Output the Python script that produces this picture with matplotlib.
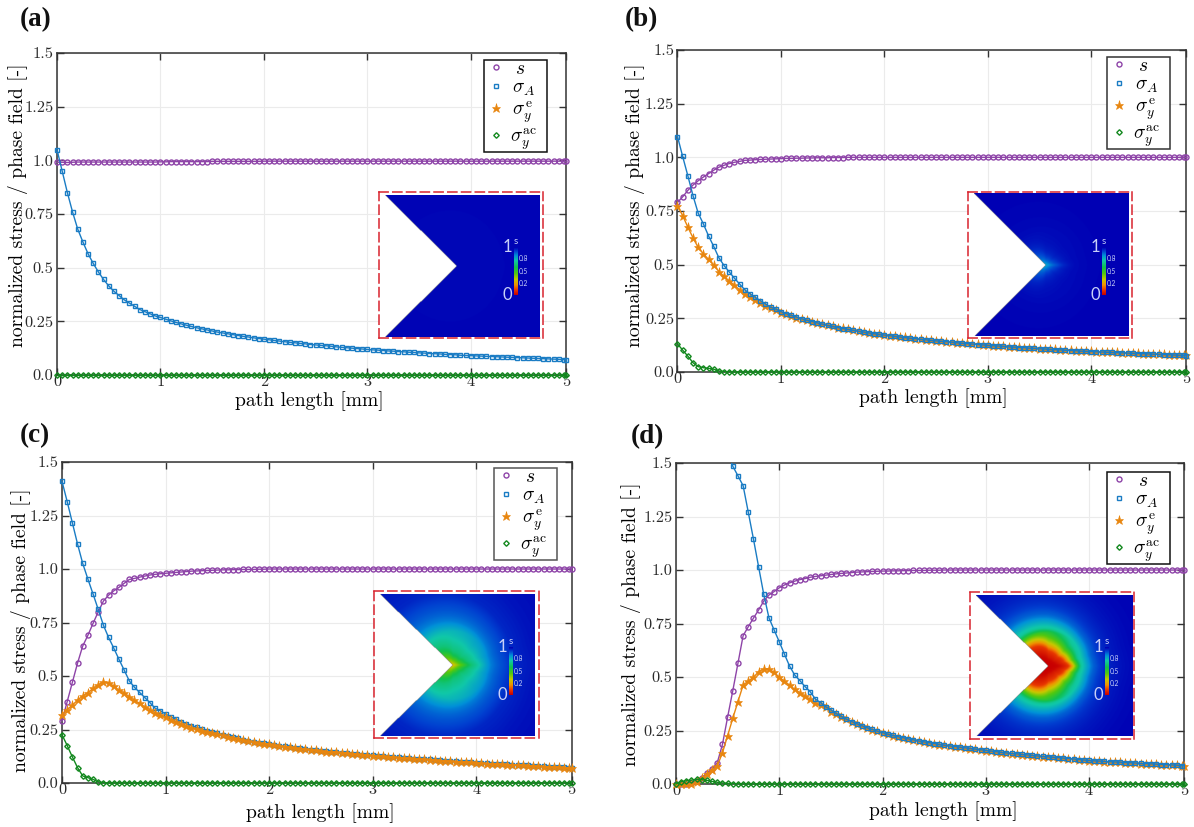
import numpy as np
import matplotlib
matplotlib.use("Agg")
import matplotlib.pyplot as plt
from matplotlib.colors import LinearSegmentedColormap
from matplotlib.lines import Line2D
from matplotlib.offsetbox import DrawingArea

plt.rcParams.update({
    "font.family": ["cmr10", "DejaVu Serif"],
    "mathtext.fontset": "cm",
    "axes.unicode_minus": False,
    "axes.formatter.use_mathtext": True,
})

W, H = 1194, 827

path_mm = [0.00,0.05,0.10,0.15,0.20,0.25,0.30,0.35,0.40,0.45,0.50,0.55,0.60,0.65,0.70,0.75,0.80,0.85,0.90,0.95,
           1.00,1.05,1.10,1.15,1.20,1.25,1.30,1.35,1.40,1.45,1.50,1.55,1.60,1.65,1.70,1.75,1.80,1.85,1.90,1.95,
           2.00,2.05,2.10,2.15,2.20,2.25,2.30,2.35,2.40,2.45,2.50,2.55,2.60,2.65,2.70,2.75,2.80,2.85,2.90,2.95,
           3.00,3.05,3.10,3.15,3.20,3.25,3.30,3.35,3.40,3.45,3.50,3.55,3.60,3.65,3.70,3.75,3.80,3.85,3.90,3.95,
           4.00,4.05,4.10,4.15,4.20,4.25,4.30,4.35,4.40,4.45,4.50,4.55,4.60,4.65,4.70,4.75,4.80,4.85,4.90,4.92]

x_ticks = [0, 1, 2, 3, 4, 4.92]
x_tick_labels = ["0", "1", "2", "3", "4", "5"]
y_ticks = [0, 0.25, 0.5, 0.75, 1.0, 1.25, 1.5]
y_tick_labels = ["0.0", "0.25", "0.5", "0.75", "1.0", "1.25", "1.5"]

# ---------- panel (a): the sigma_y^e curve is not visible in the reference
s_a = [.991,.991,.990,.991,.992,.992,.992,.992,.992,.992,.992,.992,.992,.992,.992,.992,.992,.992,.992,.992,
       .993,.993,.994,.994,.994,.994,.994,.994,.994,.994,.995,.995,.995,.995,.995,.995,.995,.995,.995,.995,
       .996,.996,.996,.996,.996,.996,.996,.996,.996,.996,.996,.996,.996,.996,.996,.996,.996,.996,.996,.996,
       .996,.996,.996,.996,.996,.996,.996,.996,.996,.996,.996,.996,.996,.996,.996,.996,.996,.996,.996,.996,
       .996,.996,.996,.996,.996,.996,.996,.996,.996,.996,.996,.996,.996,.996,.996,.996,.996,.996,.996,.996]
A_a = [1.05,.95,.85,.76,.68,.62,.565,.52,.48,.445,.415,.39,.37,.35,.335,.32,.305,.295,.285,.275,
       .268,.26,.252,.245,.238,.232,.226,.22,.215,.21,.205,.2,.196,.192,.188,.184,.18,.177,.173,.17,
       .167,.164,.161,.158,.155,.152,.15,.147,.145,.142,.14,.138,.136,.134,.131,.129,.127,.125,.123,.121,
       .119,.117,.116,.114,.112,.111,.109,.108,.106,.105,.103,.102,.1,.099,.098,.096,.095,.094,.092,.091,
       .09,.089,.088,.087,.086,.085,.084,.083,.082,.081,.08,.079,.078,.077,.076,.075,.074,.073,.072,.071]
ac_a = [0,0,0,0,0,0,0,0,0,0,0,0,0,0,0,0,0,0,0,0,
        0,0,0,0,0,0,0,0,0,0,0,0,0,0,0,0,0,0,0,0,
        0,0,0,0,0,0,0,0,0,0,0,0,0,0,0,0,0,0,0,0,
        0,0,0,0,0,0,0,0,0,0,0,0,0,0,0,0,0,0,0,0,
        0,0,0,0,0,0,0,0,0,0,0,0,0,0,0,0,0,0,0,0]

# ---------- panel (b)
s_b = [.79,.816,.846,.871,.891,.908,.924,.94,.954,.963,.971,.977,.981,.986,.987,.989,.99,.991,.992,.993,
       .994,.995,.995,.996,.996,.997,.997,.998,.998,.998,.999,.999,.999,1,1,1,1,1,1,1,
       1,1,1,1,1,1,1,1,1,1,1,1,1,1,1,1,1,1,1,1,
       1,1,1,1,1,1,1,1,1,1,1,1,1,1,1,1,1,1,1,1,
       1,1,1,1,1,1,1,1,1,1,1,1,1,1,1,1,1,1,1,1]
A_b = [1.097,1.004,.914,.821,.74,.69,.634,.585,.532,.496,.466,.437,.41,.383,.364,.348,.333,.317,.302,.293,
       .281,.272,.264,.256,.248,.241,.235,.229,.223,.217,.212,.207,.202,.198,.194,.19,.186,.182,.178,.175,
       .172,.169,.166,.163,.16,.157,.155,.152,.15,.147,.145,.143,.141,.139,.136,.134,.132,.13,.128,.126,
       .124,.122,.121,.119,.117,.116,.114,.113,.111,.11,.108,.107,.105,.104,.103,.101,.1,.099,.097,.096,
       .095,.094,.093,.092,.091,.09,.089,.088,.087,.086,.085,.084,.083,.082,.081,.08,.079,.078,.077,.076]
e_b = [.775,.728,.675,.625,.58,.55,.525,.497,.468,.445,.424,.404,.383,.362,.348,.336,.323,.309,.298,.287,
       .276,.268,.26,.253,.246,.24,.234,.228,.222,.217,.212,.207,.203,.198,.194,.19,.186,.182,.179,.176,
       .173,.17,.167,.164,.161,.158,.156,.153,.151,.148,.146,.144,.142,.14,.137,.135,.133,.131,.129,.127,
       .125,.123,.122,.12,.118,.117,.115,.114,.112,.111,.109,.108,.106,.105,.104,.102,.101,.1,.098,.097,
       .096,.095,.094,.093,.092,.091,.09,.089,.088,.087,.086,.085,.084,.083,.082,.081,.08,.079,.078,.077]
ac_b = [.131,.102,.074,.043,.025,.02,.017,.013,.005,.002,.001,0,0,0,0,0,0,0,0,0,
        0,0,0,0,0,0,0,0,0,0,0,0,0,0,0,0,0,0,0,0,
        0,0,0,0,0,0,0,0,0,0,0,0,0,0,0,0,0,0,0,0,
        0,0,0,0,0,0,0,0,0,0,0,0,0,0,0,0,0,0,0,0,
        0,0,0,0,0,0,0,0,0,0,0,0,0,0,0,0,0,0,0,0]

# ---------- panel (c)
s_c = [.29,.38,.47,.56,.64,.69,.746,.80,.85,.878,.898,.914,.933,.951,.956,.962,.967,.972,.975,.978,
       .98,.982,.984,.986,.988,.99,.991,.992,.993,.994,.995,.996,.996,.997,.997,.998,.998,.998,.999,.999,
       1,1,1,1,1,1,1,1,1,1,1,1,1,1,1,1,1,1,1,1,
       1,1,1,1,1,1,1,1,1,1,1,1,1,1,1,1,1,1,1,1,
       1,1,1,1,1,1,1,1,1,1,1,1,1,1,1,1,1,1,1,1]
A_c = [1.41,1.315,1.216,1.117,1.026,.953,.883,.811,.737,.68,.63,.578,.528,.477,.447,.423,.399,.375,.349,.338,
       .322,.31,.298,.287,.277,.268,.26,.252,.245,.238,.232,.226,.22,.214,.208,.203,.198,.193,.189,.185,
       .181,.177,.174,.171,.168,.165,.162,.159,.156,.153,.15,.148,.146,.144,.141,.139,.137,.135,.133,.131,
       .129,.127,.125,.123,.121,.12,.118,.116,.114,.113,.111,.11,.108,.106,.105,.103,.101,.1,.098,.097,
       .095,.094,.092,.091,.09,.088,.087,.086,.085,.084,.082,.081,.08,.078,.077,.076,.074,.073,.072,.07]
e_c = [.32,.343,.364,.387,.406,.422,.442,.458,.473,.469,.453,.434,.422,.403,.387,.372,.356,.343,.328,.317,
       .307,.296,.285,.275,.265,.258,.251,.245,.239,.233,.228,.222,.216,.21,.205,.2,.195,.191,.187,.183,
       .18,.176,.173,.17,.167,.164,.161,.158,.155,.152,.149,.147,.145,.143,.14,.138,.136,.134,.132,.13,
       .128,.126,.124,.122,.12,.119,.117,.115,.113,.112,.11,.109,.107,.105,.104,.102,.1,.099,.097,.096,
       .094,.093,.091,.09,.089,.087,.086,.085,.084,.083,.081,.08,.079,.077,.076,.075,.073,.072,.071,.069]
ac_c = [.226,.175,.122,.072,.033,.025,.017,.006,.001,0,0,0,0,0,0,0,0,0,0,0,
        0,0,0,0,0,0,0,0,0,0,0,0,0,0,0,0,0,0,0,0,
        0,0,0,0,0,0,0,0,0,0,0,0,0,0,0,0,0,0,0,0,
        0,0,0,0,0,0,0,0,0,0,0,0,0,0,0,0,0,0,0,0,
        0,0,0,0,0,0,0,0,0,0,0,0,0,0,0,0,0,0,0,0]

# ---------- panel (d)
s_d = [0,0,.002,.006,.012,.03,.05,.07,.1,.185,.313,.436,.564,.693,.735,.775,.813,.855,.883,.899,
       .917,.93,.94,.948,.955,.96,.966,.97,.973,.976,.979,.982,.984,.986,.988,.99,.991,.992,.993,.994,
       .995,.995,.996,.996,.997,.997,.998,.998,.998,.999,.999,.999,1,1,1,1,1,1,1,1,
       1,1,1,1,1,1,1,1,1,1,1,1,1,1,1,1,1,1,1,1,
       1,1,1,1,1,1,1,1,1,1,1,1,1,1,1,1,1,1,1,1]
A_d = [2.3,2.2,2.1,2.02,1.95,1.88,1.82,1.76,1.69,1.61,1.55,1.485,1.44,1.394,1.27,1.145,1.015,.886,.777,.72,
       .665,.607,.551,.509,.483,.455,.431,.397,.38,.361,.346,.33,.316,.303,.292,.282,.272,.263,.255,.247,
       .24,.233,.227,.221,.216,.211,.206,.201,.197,.193,.189,.185,.181,.178,.175,.172,.169,.166,.163,.16,
       .157,.154,.151,.148,.145,.143,.141,.138,.136,.134,.131,.129,.127,.125,.123,.121,.119,.117,.114,.112,
       .11,.108,.107,.106,.104,.103,.102,.1,.099,.098,.096,.095,.094,.093,.091,.09,.089,.088,.086,.085]
e_d = [0,0,.001,.002,.008,.026,.045,.065,.085,.146,.226,.307,.385,.462,.481,.498,.525,.537,.537,.522,
       .498,.481,.462,.442,.427,.411,.396,.377,.369,.358,.338,.327,.315,.302,.291,.281,.271,.262,.254,.246,
       .239,.232,.226,.22,.215,.21,.205,.2,.196,.192,.188,.184,.18,.177,.174,.171,.168,.165,.162,.159,
       .156,.153,.15,.147,.144,.142,.14,.137,.135,.133,.13,.128,.126,.124,.122,.12,.118,.116,.113,.111,
       .109,.107,.106,.105,.103,.102,.101,.099,.098,.097,.095,.094,.093,.092,.09,.089,.088,.087,.085,.084]
ac_d = [0,.011,.015,.018,.022,.02,.017,.012,.008,.005,.003,.002,.001,0,0,0,0,0,0,0,
        0,0,0,0,0,0,0,0,0,0,0,0,0,0,0,0,0,0,0,0,
        0,0,0,0,0,0,0,0,0,0,0,0,0,0,0,0,0,0,0,0,
        0,0,0,0,0,0,0,0,0,0,0,0,0,0,0,0,0,0,0,0,
        0,0,0,0,0,0,0,0,0,0,0,0,0,0,0,0,0,0,0,0]

# ---------- inset contour shape: reach of the damage zone per polar angle,
# chevron-like near the notch tip and rounder further away
inset_angle_deg = [0, 15, 45, 90, 120, 135, 180]
inset_reach_inner = [1.0, 0.72, 0.55, 0.6, 1.0, 1.2, 1.2]
inset_reach_outer = [1.0, 0.97, 1.02, 1.15, 1.22, 1.25, 1.25]
inset_colorbar_ticks = ["0.8", "0.5", "0.2"]

C_S, C_A, C_E, C_AC = "#8e44a8", "#1a7cc4", "#e8860f", "#12881e"

s_colors = [(0.0, "#c80000"), (0.10, "#e83800"), (0.2, "#f09000"), (0.32, "#c8c800"),
            (0.45, "#50c810"), (0.58, "#10c050"), (0.72, "#10c8a8"), (0.83, "#0090d8"),
            (0.92, "#0040d0"), (1.0, "#0000b4")]
s_cmap = LinearSegmentedColormap.from_list("s_field", s_colors)

panels = [
    dict(tag="(a)", tag_xy=(20, 19.5), box=(57, 566, 53, 375), s=s_a, A=A_a, e=[], ac=ac_a,
         order=("s", "e", "A", "ac"), legend=(484, 60), legend_edge="#111111",
         ylab=(18.5, 205), xlab=(309, 401),
         inset_box=(379, 543, 192, 338), image=(385, 540, 195, 337), tip=(457, 266),
         bar=(514, 518, 247, 295), scale=0.02),
    dict(tag="(b)", tag_xy=(625, 19.5), box=(677.5, 1186.5, 50, 372), s=s_b, A=A_b, e=e_b, ac=ac_b,
         order=("s", "e", "A", "ac"), legend=(1107, 57), legend_edge="#333333",
         ylab=(635, 205), xlab=(933, 398),
         inset_box=(968, 1132, 192, 338), image=(974, 1129, 193, 336), tip=(1046, 265),
         bar=(1102, 1106, 247, 295), scale=0.022),
    dict(tag="(c)", tag_xy=(20, 435.5), box=(62, 571.5, 462, 783), s=s_c, A=A_c, e=e_c, ac=ac_c,
         order=("s", "A", "e", "ac"), legend=(494, 468), legend_edge="#555555",
         ylab=(21, 630), xlab=(320, 813),
         inset_box=(374, 539, 591, 738), image=(380, 535, 594, 736), tip=(453, 665),
         bar=(509, 513, 647, 695), scale=0.0105),
    dict(tag="(d)", tag_xy=(631, 436.5), box=(676, 1184, 463, 784), s=s_d, A=A_d, e=e_d, ac=ac_d,
         order=("s", "e", "A", "ac"), legend=(1107, 472), legend_edge="#111111",
         ylab=(631, 624), xlab=(943, 811),
         inset_box=(970, 1134, 592, 739), image=(976, 1132, 595, 736), tip=(1048, 666),
         bar=(1105, 1109, 647, 695), scale=0.02),
]

STYLE = {
    "s": dict(color=C_S, marker="o", ms=3.6, mfc="none", mew=1.0, label=r"$\,\,s$"),
    "A": dict(color=C_A, marker="s", ms=3.2, mfc="none", mew=1.0, label=r"$\,\sigma_A$"),
    "e": dict(color=C_E, marker="*", ms=6.5, mfc=C_E, mew=0.4, label=r"$\,\sigma_y^{\mathrm{e}}$"),
    "ac": dict(color=C_AC, marker="D", ms=2.8, mfc="none", mew=1.0, label=r"$\sigma_y^{\mathrm{ac}}$"),
}


def px_axes(fig, l, r, t, b, **kw):
    return fig.add_axes([l / W, 1 - b / H, (r - l) / W, (b - t) / H], **kw)


fig = plt.figure(figsize=(W / 100, H / 100), dpi=100, facecolor="white")
x = np.array(path_mm)

for p in panels:
    l, r, t, b = p["box"]
    ax = px_axes(fig, l, r, t, b)
    for key in p["order"]:
        if len(p[key]) == 0:
            continue
        st = dict(STYLE[key])
        st.pop("label")
        clip = p["tag"] == "(d)" and key == "A"
        ax.plot(x, p[key], lw=1.0, clip_on=clip, zorder=3, **st)
    ax.set_xlim(0, 4.92)
    ax.set_ylim(0, 1.5)
    ax.set_xticks(x_ticks, x_tick_labels)
    ax.set_yticks(y_ticks, y_tick_labels)
    ax.tick_params(direction="in", top=True, right=True, length=5, width=1.0,
                   labelsize=11.8, color="#333333", labelcolor="#2a2a2a")
    ax.tick_params(axis="y", pad=2.5)
    ax.tick_params(axis="x", pad=0)
    ax.grid(True, color="#ebebeb", lw=0.8)
    ax.set_axisbelow(True)
    for sp in ax.spines.values():
        sp.set_color("#333333")
        sp.set_linewidth(1.1)
    ax.set_xlabel("path length [mm]", fontsize=14.1, va="center")
    ax.set_ylabel("normalized stress / phase field [-]", fontsize=14.1, va="center")
    ax.xaxis.set_label_coords((p["xlab"][0] - l) / (r - l), (b - p["xlab"][1]) / (b - t))
    ax.yaxis.set_label_coords((p["ylab"][0] - l) / (r - l), (b - p["ylab"][1]) / (b - t))

    handles = []
    for key in ("s", "A", "e", "ac"):
        st = dict(STYLE[key])
        label = st.pop("label")
        handles.append(Line2D([], [], ls="none", label=label, **st))
    leg = ax.legend(handles=handles, loc="upper left",
                    bbox_to_anchor=(p["legend"][0] / W, 1 - p["legend"][1] / H),
                    bbox_transform=fig.transFigure, borderaxespad=0, numpoints=1,
                    fontsize=14, frameon=True, fancybox=False, framealpha=1,
                    edgecolor=p["legend_edge"], handletextpad=0.13, handlelength=1.2,
                    labelspacing=0.05, borderpad=0.0)
    leg.get_frame().set_linewidth(1.1)
    leg.set_zorder(6)
    # widen the legend frame on the right, as in the reference
    last_row = leg._legend_handle_box.get_children()[0].get_children()[-1]
    last_row.get_children().append(DrawingArea(5.4, 1))

    fig.text(p["tag_xy"][0] / W, 1 - p["tag_xy"][1] / H, p["tag"], family="Liberation Serif",
             fontweight="bold", fontsize=19.5, ha="left", va="center", color="#111111")

    # inset contour picture
    bl, br, bt, bb = p["inset_box"]
    ins = px_axes(fig, bl, br, bt, bb, facecolor="white", zorder=5)
    il, ir, it, ib = p["image"]
    tx, ty = p["tip"]
    gx, gy = np.meshgrid(np.arange(il, ir, 0.5) + 0.25, np.arange(it, ib, 0.5) + 0.25)
    dx, dy = gx - tx, gy - ty
    radius = np.hypot(dx, dy)
    theta = np.degrees(np.arctan2(np.abs(dy), dx))
    reach_in = np.interp(theta, inset_angle_deg, inset_reach_inner)
    reach_out = np.interp(theta, inset_angle_deg, inset_reach_outer)
    blend = np.clip((radius - 8) / 26, 0, 1)
    reach = (1 - blend) * reach_in + blend * reach_out
    field = np.interp(radius / reach * p["scale"], path_mm, p["s"])
    half_h = (ib - it) / 2
    notch = (dx < 0) & (np.abs(dy) < -dx * half_h / (tx - il))
    field = np.ma.array(field, mask=notch)
    ins.imshow(field, extent=(il, ir, ib, it), cmap=s_cmap, vmin=0, vmax=1, aspect="auto",
               interpolation="bilinear")
    cl, cr, ct, cb = p["bar"]
    ins.imshow(np.linspace(1, 0, 64).reshape(-1, 1), extent=(cl, cr, cb, ct), cmap=s_cmap,
               vmin=0, vmax=1, aspect="auto")
    label_col = "#c8d0f8"
    ins.text(cl + 2, ct - 6, "s", color=label_col, fontsize=7, family="Lato", ha="center", va="center")
    ins.text(cl - 2, ct, "1", color=label_col, fontsize=12, family="Lato", ha="right", va="center")
    ins.text(cl - 2, cb, "0", color=label_col, fontsize=12, family="Lato", ha="right", va="center")
    for frac, txt in zip((0.24, 0.5, 0.76), inset_colorbar_ticks):
        ins.text(cr + 1, ct + frac * (cb - ct), txt, color=label_col, fontsize=4.8,
                 family="Lato", ha="left", va="center")
    ins.set_xlim(bl, br)
    ins.set_ylim(bb, bt)
    ins.set_xticks([])
    ins.set_yticks([])
    for sp in ins.spines.values():
        sp.set_color("#d9232e")
        sp.set_linewidth(1.1)
        sp.set_linestyle((0, (6, 3)))

fig.savefig("out.png", dpi=100)
